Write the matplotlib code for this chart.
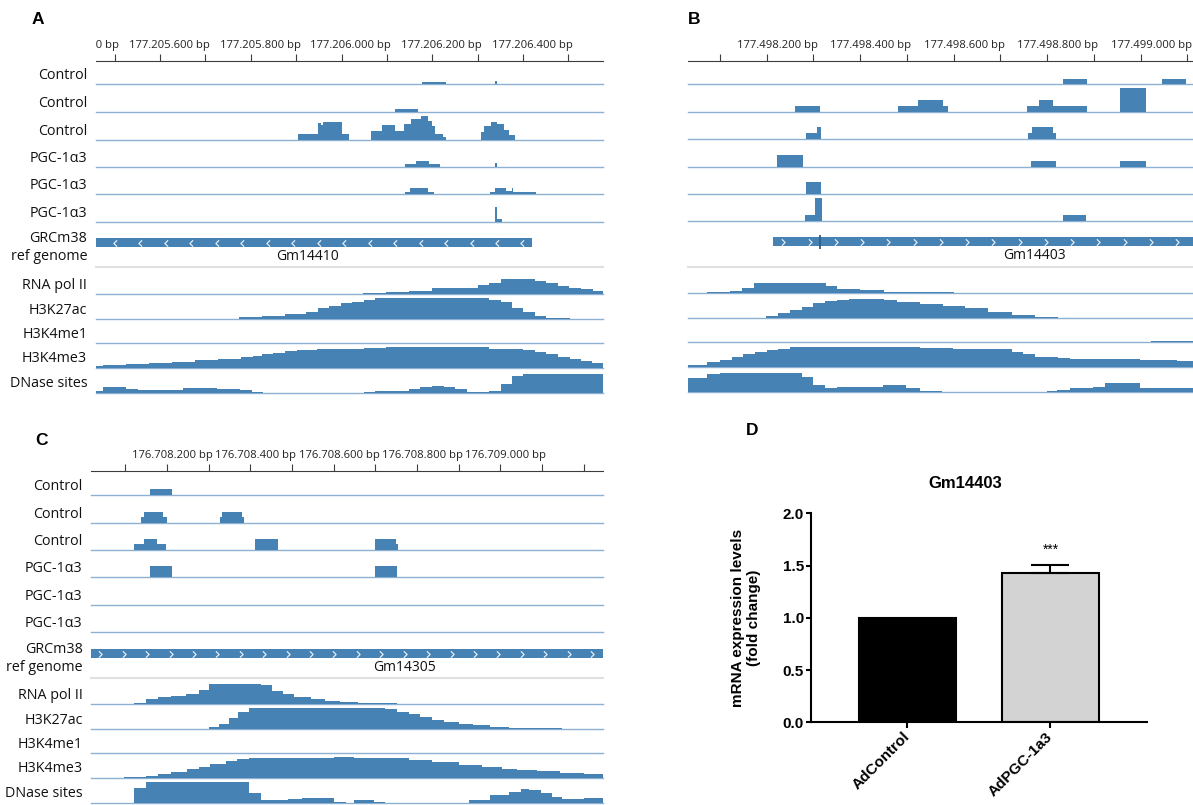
import numpy as np
import matplotlib
matplotlib.use("Agg")
import matplotlib.pyplot as plt
from matplotlib.path import Path
from matplotlib.lines import Line2D
from matplotlib import transforms

# ---------------------------------------------------------------
# Data: genomic offsets (bp from each panel origin) and signal
# (start, end, value) steps for every browser track
# ---------------------------------------------------------------
READ_LABELS = ["Control", "Control", "Control", "PGC-1α3", "PGC-1α3", "PGC-1α3"]
CHIP_LABELS = ["RNA pol II", "H3K27ac", "H3K4me1", "H3K4me3", "DNase sites"]

# Panel A: Gm14410 locus
A_ORIGIN = 177205400
A_CONTROL_1 = [(677, 730, 2.7), (839, 842, 3)]
A_CONTROL_2 = [(619, 669, 3.6)]
A_CONTROL_3 = [(405, 449, 6), (449, 454, 17.3), (454, 460, 15), (460, 502, 17.5), (502, 516, 5.7),
               (566, 589, 9.3), (589, 619, 15), (619, 637, 9.3), (637, 654, 16), (654, 675, 21.3),
               (675, 690, 24), (690, 699, 19.3), (699, 707, 14), (707, 724, 6), (724, 730, 2.7),
               (808, 814, 8.3), (814, 829, 14), (829, 844, 18), (844, 859, 16), (859, 869, 10),
               (869, 882, 5.3)]
A_PGC_1 = [(641, 664, 3.3), (664, 694, 6), (694, 717, 3.3), (839, 842, 4)]
A_PGC_2 = [(640, 651, 2.7), (651, 690, 6), (690, 705, 2.7), (827, 838, 2.7), (838, 862, 6),
           (862, 876, 3.3), (876, 878, 6), (878, 928, 2.7)]
A_PGC_3 = [(839, 842, 14.3), (842, 855, 2.7)]
A_GENE = ("Gm14410", -42, 920, "-")
A_RNAPOL2 = [(547, 599, 0.7), (599, 648, 1.7), (648, 699, 3.3), (699, 800, 6), (800, 825, 8.7),
             (825, 851, 11.3), (851, 927, 14.7), (927, 951, 13.3), (951, 977, 11), (977, 1002, 8.3),
             (1002, 1028, 6), (1028, 1055, 4.7), (1055, 1078, 3.3)]
A_H3K27AC = [(219, 274, 0.7), (274, 325, 2), (325, 376, 3.7), (376, 422, 5.3), (422, 449, 7.7),
             (449, 473, 11.7), (473, 498, 13.7), (498, 523, 16), (523, 549, 17.7), (549, 574, 19.7),
             (574, 599, 21), (599, 800, 21.7), (800, 825, 21), (825, 851, 19.3), (851, 876, 17),
             (876, 901, 11.7), (901, 927, 7), (927, 952, 3.3), (952, 1003, 1.7)]
A_H3K4ME1 = []
A_H3K4ME3 = [(-42, -25, 1.7), (-25, 25, 2.3), (25, 76, 3.3), (76, 127, 4.3), (127, 177, 6),
             (177, 228, 7.3), (228, 278, 8.7), (278, 304, 10.3), (304, 325, 11.7), (325, 350, 13.3),
             (350, 376, 15), (376, 401, 16.3), (401, 447, 17.7), (447, 498, 18.3), (498, 549, 19),
             (549, 599, 19.7), (599, 802, 20.3), (802, 825, 20.7), (825, 901, 19), (901, 927, 17.7),
             (927, 952, 15.7), (952, 977, 13.7), (977, 1003, 11), (1003, 1028, 9), (1028, 1053, 7),
             (1053, 1078, 5)]
A_DNASE = [(-42, -27, 1.3), (-27, 25, 5.3), (25, 51, 4), (51, 150, 3), (150, 175, 4.3), (175, 226, 5),
           (226, 277, 3.7), (277, 302, 2.7), (302, 327, 0.7), (549, 574, 0.7), (574, 648, 1.7),
           (648, 673, 3.7), (673, 699, 5.7), (699, 726, 7), (726, 751, 5.7), (751, 776, 3.3),
           (776, 825, 1), (825, 851, 2), (851, 876, 9), (876, 901, 16.7), (901, 927, 18.3),
           (927, 1078, 19)]

# Panel B: Gm14403 locus
B_ORIGIN = 177498000
B_CONTROL_1 = [(735, 786, 5.7), (945, 997, 5.7)]
B_CONTROL_2 = [(160, 213, 6.3), (380, 424, 6.3), (424, 477, 12.3), (477, 487, 6.3), (658, 683, 6.3),
               (683, 712, 12.3), (712, 786, 6.3), (857, 911, 24)]
B_CONTROL_3 = [(183, 208, 6), (208, 217, 12), (660, 667, 6), (667, 712, 12), (712, 720, 6)]
B_PGC_1 = [(123, 177, 12), (665, 718, 6), (857, 911, 6)]
B_PGC_2 = [(183, 217, 12)]
B_PGC_3 = [(181, 203, 5.7), (203, 218, 23.3), (735, 783, 5.7)]
B_GENE = ("Gm14403", 114, 1013, "+")
B_GENE_MARK = 214
B_RNAPOL2 = [(-28, 21, 1), (21, 48, 2.3), (48, 73, 5), (73, 227, 10), (227, 251, 7.7), (251, 300, 4.3),
             (300, 351, 3), (351, 377, 1.7), (377, 501, 1)]
B_H3K27AC = [(75, 98, 0.7), (98, 125, 2.7), (125, 150, 5), (150, 175, 8.3), (175, 200, 11.7),
             (200, 225, 15.7), (225, 250, 17.7), (250, 275, 18.7), (275, 350, 19.3), (350, 378, 18.7),
             (378, 428, 16.7), (428, 478, 14.7), (478, 524, 12.7), (524, 574, 10), (574, 624, 6),
             (624, 674, 3.7), (674, 724, 1.7), (724, 778, 0.5), (820, 1013, 0.5)]
B_H3K4ME1 = [(874, 922, 0.7), (922, 1013, 1.3)]
B_H3K4ME3 = [(-68, -28, 2.7), (-28, 0, 5), (0, 25, 7.3), (25, 50, 10), (50, 75, 13.3), (75, 100, 15.7),
             (100, 125, 17.3), (125, 150, 18.3), (150, 175, 20), (175, 225, 20.7), (225, 275, 20),
             (275, 428, 20.7), (428, 499, 19), (499, 624, 18), (624, 649, 15.7), (649, 674, 13.3),
             (674, 724, 10.7), (724, 749, 9.7), (749, 827, 8.7), (827, 899, 8), (899, 977, 7.3),
             (977, 1013, 6.3)]
B_DNASE = [(-68, -28, 13.3), (-28, 0, 17.7), (0, 175, 19), (175, 200, 14.3), (200, 225, 6.3),
           (225, 250, 3.3), (250, 348, 5), (348, 374, 7), (374, 399, 6.3), (399, 428, 3.3),
           (428, 476, 1), (699, 722, 1), (722, 749, 2), (749, 799, 3.7), (799, 824, 5), (824, 877, 9),
           (877, 899, 8.3), (899, 924, 4), (924, 1013, 3.3)]

# Panel C: Gm14305 locus
C_ORIGIN = 176708000
C_CONTROL_1 = [(60, 111, 6)]
C_CONTROL_2 = [(37, 45, 5.3), (45, 90, 11), (90, 101, 5.3), (227, 232, 5.3), (232, 280, 11),
               (280, 284, 5.3)]
C_CONTROL_3 = [(22, 45, 5.7), (45, 76, 11.3), (76, 97, 5.7), (312, 366, 11.3), (600, 649, 11.3),
               (649, 654, 5.7)]
C_PGC_1 = [(60, 111, 11.7), (599, 652, 11.7)]
C_PGC_2 = []
C_PGC_3 = []
C_GENE = ("Gm14305", -82, 1148, "+")
C_RNAPOL2 = [(22, 50, 1), (50, 78, 4.7), (78, 110, 7.3), (110, 146, 8), (146, 176, 9.7), (176, 202, 14),
             (202, 325, 20), (325, 351, 18.7), (351, 379, 13.3), (379, 404, 10), (404, 446, 7.3),
             (446, 479, 5), (479, 516, 2.7), (516, 558, 1.7), (558, 652, 0.7)]
C_H3K27AC = [(174, 202, 0.7), (202, 224, 2.7), (224, 248, 5.3), (248, 271, 11), (271, 297, 17.7),
             (297, 624, 21), (624, 652, 20), (652, 680, 17.7), (680, 708, 15.3), (708, 736, 12),
             (736, 764, 9.3), (764, 801, 7.3), (801, 834, 5.3), (834, 876, 4), (876, 922, 2.7),
             (922, 960, 1.7), (960, 1049, 1), (1049, 1148, 0.4)]
C_H3K4ME1 = [(1020, 1148, 0.6)]
C_H3K4ME3 = [(-2, 50, 0.7), (50, 78, 1.7), (78, 110, 3.3), (110, 148, 5.3), (148, 176, 8.3),
             (176, 204, 11), (204, 241, 13.7), (241, 269, 16.3), (269, 297, 18.3), (297, 400, 19.3),
             (400, 502, 20), (502, 549, 20.3), (549, 605, 20), (605, 680, 19.3), (680, 736, 17.7),
             (736, 801, 15.7), (801, 857, 13), (857, 904, 10.3), (904, 941, 9), (941, 988, 7.7),
             (988, 1044, 6.3), (1044, 1100, 5), (1100, 1148, 3.7)]
C_DNASE = [(22, 50, 14.3), (50, 297, 20.3), (297, 325, 9.3), (325, 390, 2.7), (390, 423, 4),
           (423, 502, 5), (502, 530, 0.7), (549, 596, 2.7), (596, 624, 0.7), (824, 876, 2.7),
           (876, 922, 7.3), (922, 950, 10.7), (950, 969, 13.3), (969, 997, 12.7), (997, 1025, 9.3),
           (1025, 1049, 6), (1049, 1100, 3.3), (1100, 1148, 5)]

# Panel D: qPCR
D_TITLE = "Gm14403"
D_GROUPS = ["AdControl", "AdPGC-1a3"]
D_MEAN = [1.0, 1.43]
D_SEM = [0.0, 0.075]
D_YTICKS = [0.0, 0.5, 1.0, 1.5, 2.0]

# ---------------------------------------------------------------
# Style
# ---------------------------------------------------------------
W, H = 1193, 805
BLUE = "#4682b4"
BASE_BLUE = "#8db1d3"
RULER = "#3c3c3c"
SEP_GREY = "#e0e0e0"
BROWSER_FONT = "Open Sans"
PLOT_FONT = "Liberation Sans"

READ_H = 26
CHIP_H = 23
CHEVRON_STEP = 56.2

CHEV_RIGHT = Path([(-0.5, 1), (0.5, 0), (-0.5, -1)], [Path.MOVETO, Path.LINETO, Path.LINETO])
CHEV_LEFT = Path([(0.5, 1), (-0.5, 0), (0.5, -1)], [Path.MOVETO, Path.LINETO, Path.LINETO])

GENE_LABEL_X = {"Gm14410": 426, "Gm14403": 673, "Gm14305": 670}

fig = plt.figure(figsize=(W / 100, H / 100), dpi=100)


def px_axes(left, top, width, height):
    return fig.add_axes([left / W, 1 - (top + height) / H, width / W, height / H])


def fig_text(x, y, s, **kw):
    return fig.text(x / W, 1 - y / H, s, **kw)


def to_steps(segments):
    edges, vals = [], []
    for s, e, v in segments:
        if not edges:
            edges.append(s)
        elif s > edges[-1]:
            vals.append(0)
            edges.append(s)
        vals.append(v)
        edges.append(e)
    return edges, vals


def draw_track(segments, left, right, baseline, height, xlim):
    ax = px_axes(left, baseline - height, right - left, height)
    ax.set_xlim(xlim)
    ax.set_ylim(0, height)
    ax.axis("off")
    ax.axhline(0, color=BASE_BLUE, lw=1.0, clip_on=False, zorder=1)
    if segments:
        edges, vals = to_steps(segments)
        ax.stairs(vals, edges, fill=True, facecolor=BLUE, edgecolor="none", lw=0, zorder=2)
    return ax


def fmt_bp(v):
    return f"{v:,}".replace(",", ".") + " bp"


def draw_ruler(origin, left, right, line_y, xlim, ticks, label_at):
    ax = px_axes(left, line_y - 25, right - left, 25)
    ax.set_xlim(xlim)
    ax.set_ylim(0, 1)
    ax.patch.set_visible(False)
    for side in ["top", "left", "right"]:
        ax.spines[side].set_visible(False)
    ax.spines["bottom"].set_color(RULER)
    ax.spines["bottom"].set_linewidth(0.8)
    ax.set_yticks([])
    ax.set_xticks(ticks)
    ax.tick_params(axis="x", direction="in", length=4.7, width=0.8, color=RULER, labelbottom=False)
    # labels sit just right of their tick and are clipped at the panel edges
    trans = transforms.blended_transform_factory(ax.transData, ax.transAxes)
    trans = transforms.offset_copy(trans, fig=fig, x=4.5, y=0, units="dots")
    for pos in label_at:
        ax.text(pos, 0.62, fmt_bp(origin + pos), transform=trans, ha="right", va="center",
                fontsize=8.1, family=BROWSER_FONT, color="#222222", clip_on=True)
    return ax


def draw_gene(gene, left, right, top, xlim, chev_start, mark=None):
    name, start, end, strand = gene
    ax = px_axes(left, top, right - left, 9)
    ax.set_xlim(xlim)
    ax.set_ylim(0, 1)
    ax.axis("off")
    ax.barh(0.5, end - start, left=start, height=1.0, color=BLUE, lw=0)
    xs = np.arange(chev_start, end - 10, CHEVRON_STEP)
    ax.plot(xs, np.full(len(xs), 0.5), ls="none", marker=CHEV_RIGHT if strand == "+" else CHEV_LEFT,
            ms=4.6, mec="#e4edf5", mew=0.9, fillstyle="none")
    if mark is not None:
        ax.vlines(mark, -0.25, 1.25, color="#2d5f88", lw=1.3, clip_on=False)
    trans = transforms.blended_transform_factory(ax.transData, ax.transAxes)
    ax.text(GENE_LABEL_X[name], -1.05, name, transform=trans, ha="center", va="center",
            fontsize=10, family=BROWSER_FONT, color="#111111")
    return ax


def draw_browser(origin, left, right, px_per_bp, tick0_px, ruler_y, read_y, gene_top, sep_y, chip_y,
                 reads, gene, chips, label_x, ticks, label_at, chev_start, mark=None):
    xlim = ((left - tick0_px) / px_per_bp, (right - tick0_px) / px_per_bp)
    draw_ruler(origin, left, right, ruler_y, xlim, ticks, label_at)
    for i, segs in enumerate(reads):
        draw_track(segs, left, right, read_y[i], READ_H, xlim)
        if label_x is not None:
            fig_text(label_x, read_y[i] - 8.6, READ_LABELS[i], ha="right", va="center",
                     fontsize=10.3, family=BROWSER_FONT, color="#111111")
    draw_gene(gene, left, right, gene_top, xlim, chev_start, mark)
    if label_x is not None:
        fig_text(label_x, gene_top, "GRCm38", ha="right", va="center", fontsize=10.3,
                 family=BROWSER_FONT, color="#111111")
        fig_text(label_x, gene_top + 18.6, "ref genome", ha="right", va="center", fontsize=10.3,
                 family=BROWSER_FONT, color="#111111")
    fig.add_artist(Line2D([left / W, right / W], [1 - sep_y / H] * 2, color=SEP_GREY, lw=1.5))
    for i, segs in enumerate(chips):
        draw_track(segs, left, right, chip_y[i], CHIP_H, xlim)
        if label_x is not None:
            fig_text(label_x, chip_y[i] - 8.8, CHIP_LABELS[i], ha="right", va="center",
                     fontsize=10.3, family=BROWSER_FONT, color="#111111")


# Panel A
draw_browser(A_ORIGIN, 95.7, 603.3, 0.4534, 114.8, 60.7,
             [84.3, 112.3, 140.0, 167.3, 194.3, 221.7], 238.3, 267.5,
             [294.0, 319.3, 343.3, 367.7, 392.7],
             [A_CONTROL_1, A_CONTROL_2, A_CONTROL_3, A_PGC_1, A_PGC_2, A_PGC_3], A_GENE,
             [A_RNAPOL2, A_H3K27AC, A_H3K4ME1, A_H3K4ME3, A_DNASE],
             87.2, list(range(0, 1001, 100)), [0, 200, 400, 600, 800, 1000], 0)

# Panel B
draw_browser(B_ORIGIN, 688.3, 1193, 0.4673, 720.0, 60.7,
             [84.3, 112.3, 139.3, 166.7, 194.0, 221.0], 237.5, 267.5,
             [293.3, 318.3, 342.3, 367.3, 391.7],
             [B_CONTROL_1, B_CONTROL_2, B_CONTROL_3, B_PGC_1, B_PGC_2, B_PGC_3], B_GENE,
             [B_RNAPOL2, B_H3K27AC, B_H3K4ME1, B_H3K4ME3, B_DNASE],
             None, list(range(0, 1001, 100)), [200, 400, 600, 800, 1000], 135.5, B_GENE_MARK)

# Panel C
draw_browser(C_ORIGIN, 91.4, 603.3, 0.41667, 125.3, 470.7,
             [495.3, 522.7, 550.0, 577.3, 605.0, 631.7], 649.3, 678.0,
             [704.0, 729.3, 753.3, 777.7, 802.7],
             [C_CONTROL_1, C_CONTROL_2, C_CONTROL_3, C_PGC_1, C_PGC_2, C_PGC_3], C_GENE,
             [C_RNAPOL2, C_H3K27AC, C_H3K4ME1, C_H3K4ME3, C_DNASE],
             82.5, list(range(0, 1101, 100)), [200, 400, 600, 800, 1000], -60)

# Panel D: bar chart
ax = px_axes(810.7, 513.3, 336, 209)
x = np.arange(len(D_GROUPS))
ax.bar(x, D_MEAN, width=0.68, color=["black", "#d3d3d3"], edgecolor="black", linewidth=1.5, zorder=2)
for xi, m, s in zip(x, D_MEAN, D_SEM):
    if s > 0:
        ax.errorbar(xi, m, yerr=[[0], [s]], fmt="none", ecolor="black", elinewidth=1.5,
                    capsize=13.5, capthick=1.5, zorder=3)
        ax.text(xi, m + s + 0.15, "***", ha="center", va="center", fontsize=10, family=PLOT_FONT)
ax.set_xlim(-0.676, 1.673)
ax.set_ylim(0, 2)
ax.set_yticks(D_YTICKS)
ax.set_yticklabels([f"{v:.1f}" for v in D_YTICKS], fontsize=11, fontweight="bold", family=PLOT_FONT)
ax.set_xticks(x)
ax.set_xticklabels(D_GROUPS, rotation=45, ha="right", va="center", rotation_mode="anchor",
                   fontsize=11, fontweight="bold", family=PLOT_FONT)
ax.tick_params(axis="y", length=3.4, width=1.5, pad=1.5)
ax.tick_params(axis="x", length=4.3, width=1.5, pad=4.5)
for side in ["top", "right"]:
    ax.spines[side].set_visible(False)
for side in ["left", "bottom"]:
    ax.spines[side].set_linewidth(1.5)
ax.set_ylabel("mRNA expression levels\n(fold change)", fontsize=11, fontweight="bold",
              family=PLOT_FONT, linespacing=1.15)
ax.yaxis.label.set_va("center")
ax.yaxis.set_label_coords(-0.193, 0.5)
ax.text(0.459, 1.1435, D_TITLE, transform=ax.transAxes, ha="center", va="center",
        fontsize=12, fontweight="bold", family=PLOT_FONT)

# Panel letters
for letter, (lx, ly) in {"A": (38, 19.3), "B": (693.7, 19.3), "C": (42, 440), "D": (752, 430)}.items():
    fig_text(lx, ly, letter, ha="center", va="center", fontsize=12.5, fontweight="bold", family=PLOT_FONT)

fig.savefig("out.png", dpi=100, facecolor="white")
